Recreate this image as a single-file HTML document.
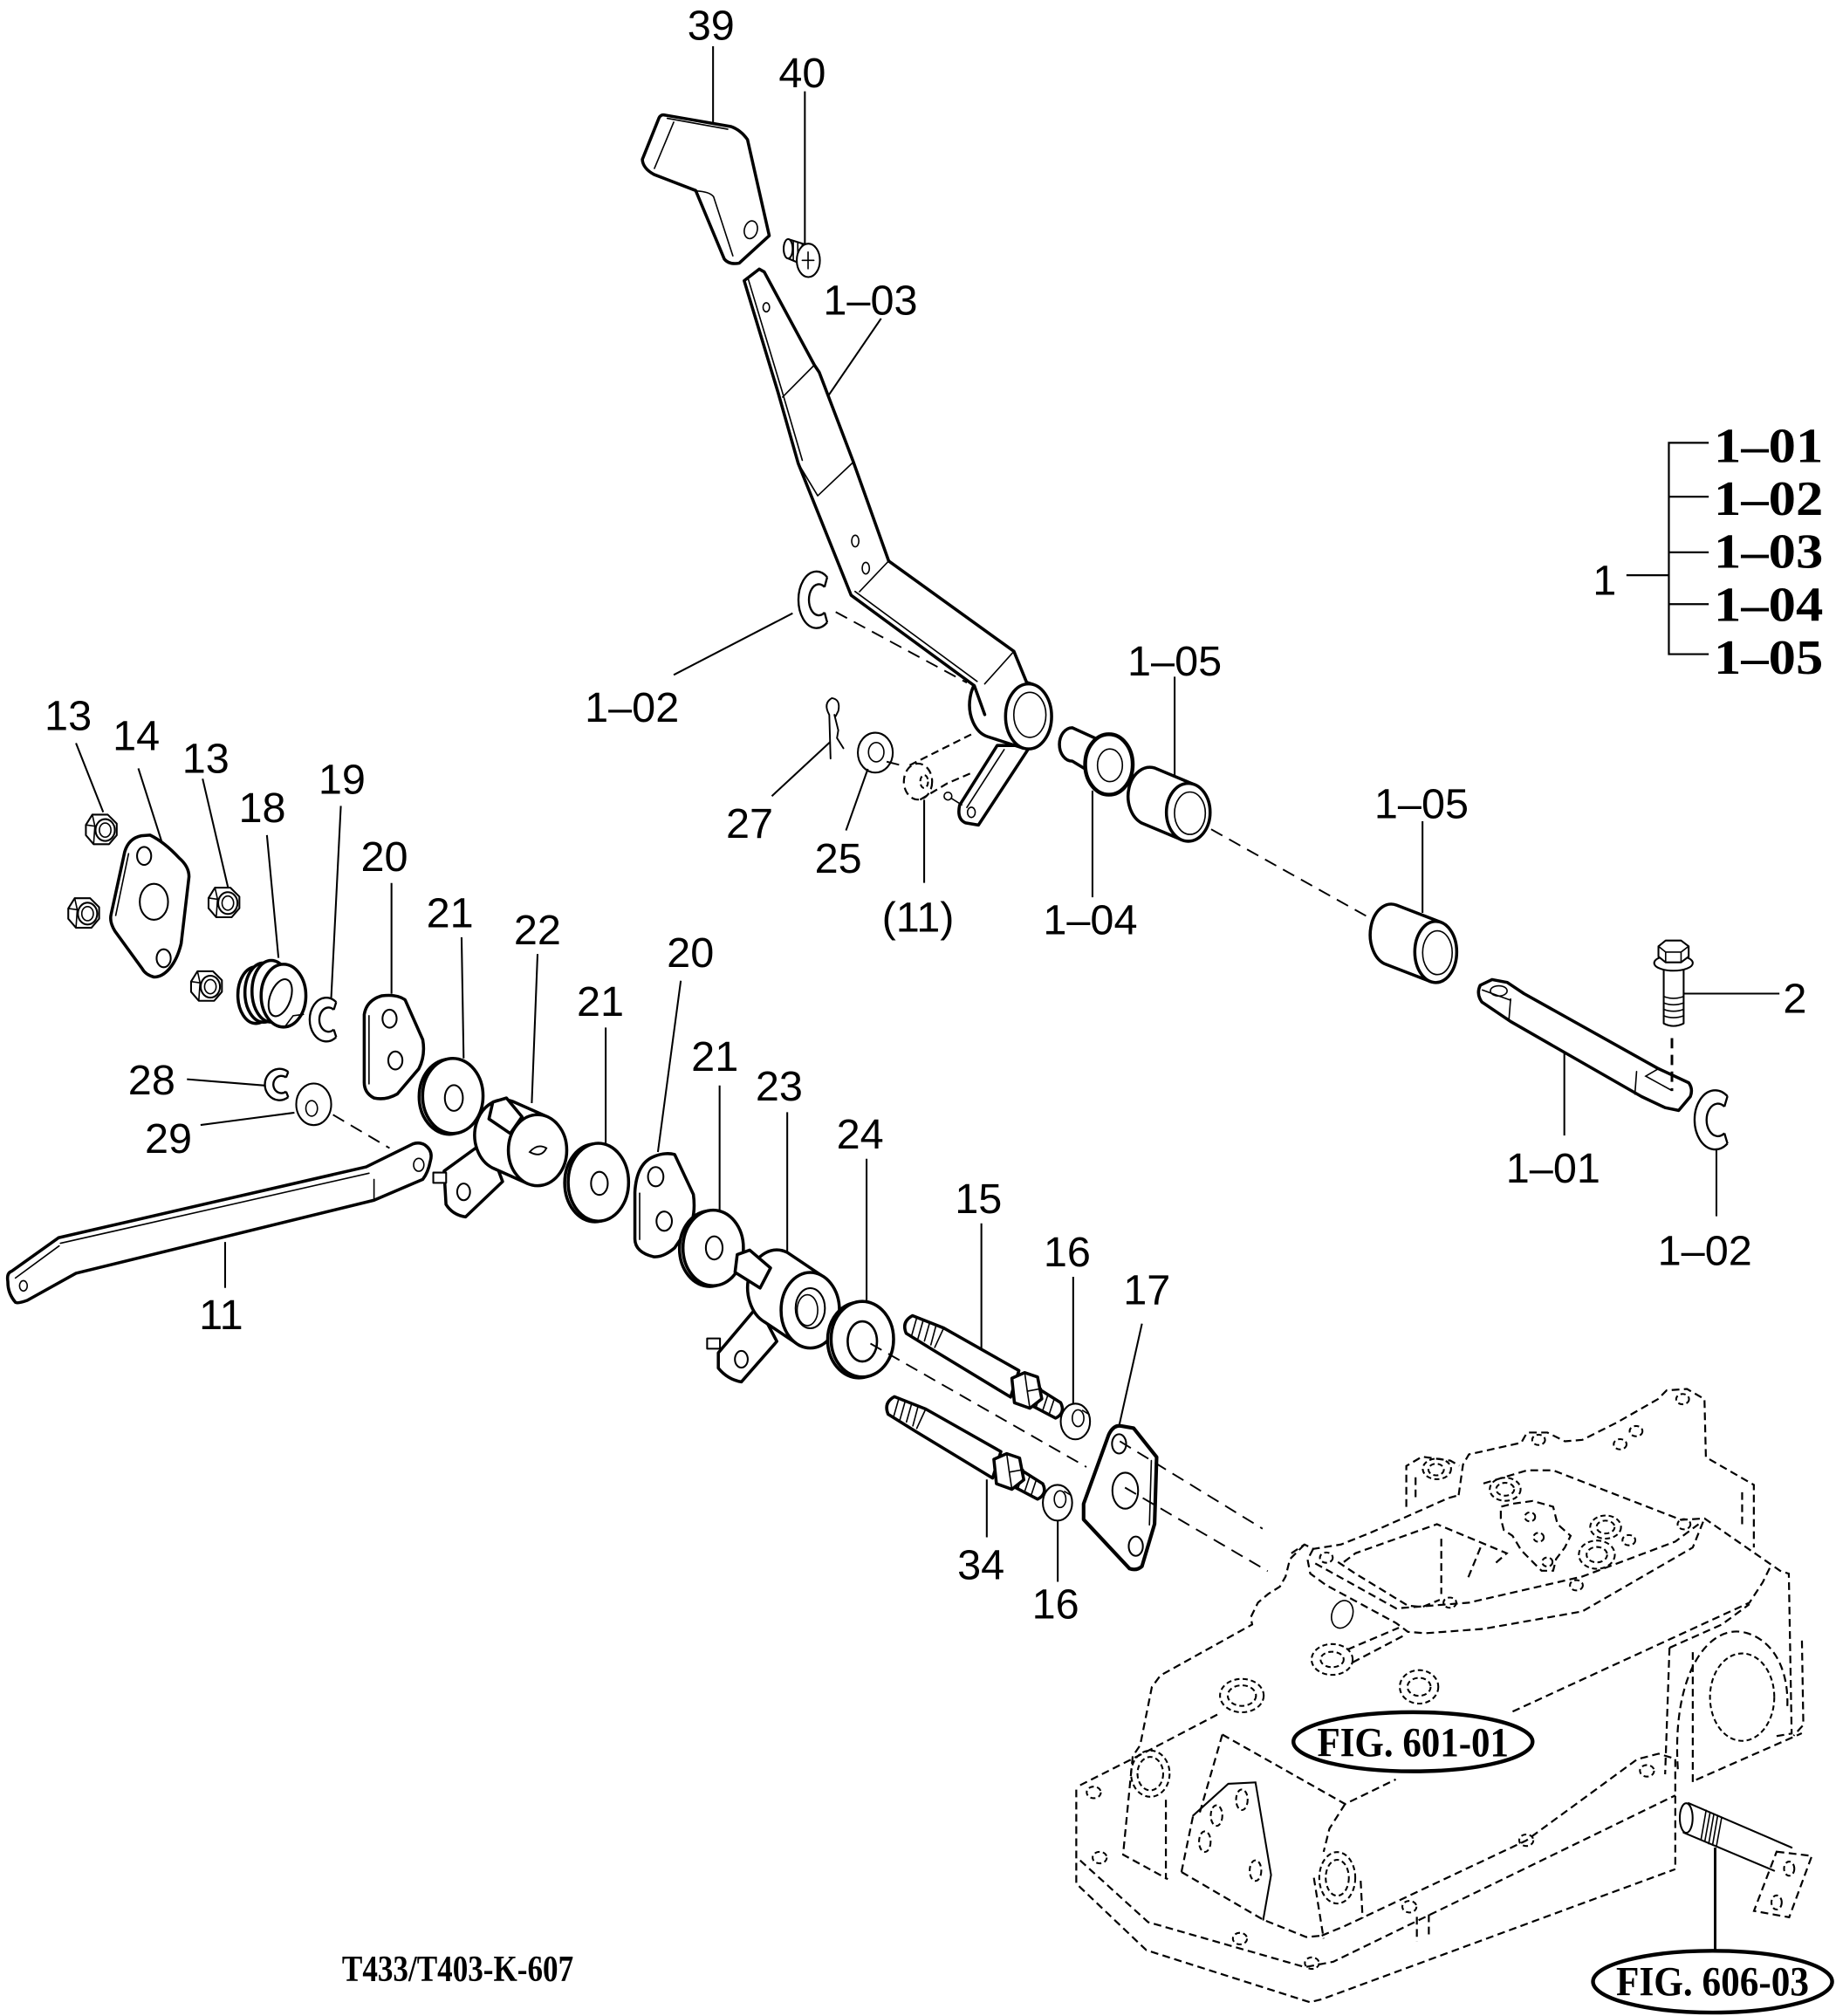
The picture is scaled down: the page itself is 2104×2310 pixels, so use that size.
<!DOCTYPE html>
<html><head><meta charset="utf-8"><style>
html,body{margin:0;padding:0;background:#fff}
svg{display:block}
</style></head><body>
<svg xmlns="http://www.w3.org/2000/svg" width="2104" height="2310" viewBox="0 0 1428 1568" preserveAspectRatio="none">
<style>
.p{fill:#fff;stroke:#000;stroke-width:2.4;stroke-linejoin:round;stroke-linecap:round}
.q{fill:#fff;stroke:#000;stroke-width:1.4;stroke-linejoin:round}
.t{fill:none;stroke:#000;stroke-width:1.1;stroke-linecap:round}
.l{fill:none;stroke:#000;stroke-width:1.4}
.d{fill:none;stroke:#000;stroke-width:1.5;stroke-dasharray:6 3.5}
.d2{fill:none;stroke:#000;stroke-width:1.4;stroke-dasharray:4 2.5}
.c{fill:none;stroke:#000;stroke-width:1.3;stroke-dasharray:10 6}
.n{font-family:"Liberation Sans",Arial,sans-serif;font-size:33px;text-anchor:middle;fill:#000}
.b{font-family:"Liberation Serif","Times New Roman",serif;font-weight:bold;fill:#000}
</style>
<rect width="1428" height="1568" fill="#fff"/>

<!-- ===== HOUSING (dashed) ===== -->
<g class="d">
<path d="M1004.4,1208.1 L1014.6,1201.3 L1021.4,1204.7 L1042.9,1201.3 L1065.5,1192.3 L1126.6,1165.1 L1134.5,1162.9"/>
<path d="M1014.6,1201.3 L1003.3,1212.6 L999.9,1226.2 L995.4,1234.1 L986.3,1239.8 L978.4,1246.5 L972.8,1257.9 L973.9,1263.5 L902.6,1303.1 L895.9,1312.1 L886.8,1357.4 L881,1366"/>
<path d="M1021.4,1204.7 L1017,1213 L1019.1,1223.9 L1031.6,1233 L1085.9,1262.4 L1095,1269.2 L1108.5,1270.3 L1153.8,1266.9 L1230.7,1253.3 L1316.6,1203.6 L1325.7,1181"/>
<path d="M1023,1216 L1085.9,1251 L1142.5,1246.5 L1230.7,1226.2 L1303,1199 L1321.1,1185.5"/>
<path d="M1134.5,1162.9 L1137.9,1139.1 L1142.5,1131.2 L1183.2,1122.1 L1187.7,1114.2 L1203.5,1114.2 L1217.1,1121 L1230.7,1119.9 L1242,1114.2 L1257.8,1106.3 L1289.5,1088.2 L1296.3,1081.4 L1312.1,1080.3 L1325.7,1088.2 L1326.8,1133.4 L1364.1,1154.9 L1364.1,1203.6"/>
<path d="M1153.8,1153.8 L1187.7,1143.6 L1208,1143.6 L1307.6,1182.1 L1325.7,1181 L1384.5,1221.7 L1391.3,1224 L1393.5,1348.3 L1380,1350.6"/>
<path d="M1401.5,1276 L1402.6,1341.6 L1395,1350"/>
<path d="M1355,1160.6 L1355,1185.5"/>
<path d="M1093.8,1172 L1093.8,1140.2 L1106,1133 L1128,1136 L1135,1140 M1101,1149 L1101,1166"/>
<path d="M1040.6,1214.9 L1054.2,1223.9 L1094.9,1248.8 L1106.2,1249.9 L1119.8,1244.3"/>
<path d="M1045.2,1214.9 L1054.2,1208.1 L1117.6,1185.5 L1171.9,1208.1 L1161.7,1217.1"/>
<path d="M1121,1196.8 L1121,1239.8"/>
<path d="M1151.5,1203.6 L1141.3,1228.5"/>
<path d="M1167.3,1181 L1167.3,1171.9 L1176.4,1169.6 L1192.2,1167.4 L1208,1171.9 L1211.4,1185.5 L1221.6,1194.5 L1217.1,1203.6 L1210.3,1212.6 L1208,1221.7 L1199,1221.7 L1192.2,1214.9 L1183.2,1205.8 L1176.4,1194.5 L1169.6,1190 Z"/>
<path d="M1176.5,1331.2 L1360.7,1246.5 L1371,1230.7 L1377.7,1217"/>
<path d="M1298.5,1281.6 L1339.2,1263.5 L1360.7,1247.7"/>
<path d="M1298.5,1281.6 L1295.1,1380 M1316.6,1285 L1316.6,1389"/>
<path d="M1305,1376 C1300,1300 1330,1262 1358,1270 C1380,1276 1392,1300 1390,1330"/>
<path d="M1319.2,1384.3 L1401.4,1348.1"/>
<path d="M840.1,1388.5 L888.6,1364 L949.2,1332.3"/>
<path d="M837.1,1391.9 L837.1,1465 L891.6,1516.8 L1018.9,1557.3 L1028,1555 L1303,1453.8"/>
<path d="M840.1,1447 L893,1495 L1015,1530 L1037,1525.8 L1303,1396.4"/>
<path d="M1028,1505.5 L1046,1498 L1187.1,1431.5 L1273.4,1368.3 L1290,1364 L1303,1368 L1303,1453.8"/>
<path d="M881,1366 L873.5,1442.5 L908.3,1461.6 M906.8,1399.8 L906.8,1461.6"/>
<path d="M918.9,1456 L928,1412.1 M918.9,1456 L982.5,1493.1 L1015.9,1506.6 L1028,1505.5"/>
<path d="M950.7,1349.1 L932.5,1412.1"/>
<path d="M950.7,1349.1 L1046.2,1403.1 L1085.6,1384"/>
<path d="M1046.2,1403.1 L1034,1422.3 L1029.5,1440.3"/>
<path d="M1021.9,1460.5 L1029.5,1507.8 M1058.3,1462.8 L1059.8,1492"/>
<path d="M1048,1283 L1088,1266 M1052,1293 L1092,1272"/>
<path d="M1102,1490.9 L1102,1510 M1111.3,1489 L1111.3,1507.8"/>
<path d="M1381.8,1440.2 L1409.2,1443.5 L1391.6,1491.2 L1364.2,1486.3 Z"/>
</g>
<path class="t" style="stroke-width:1.4" d="M928,1412.1 L955.3,1387.4 L976.5,1386.3 L988.6,1458.3 L982.5,1493.1"/>
<ellipse class="t" cx="1044" cy="1255.6" rx="8" ry="11" transform="rotate(20 1044 1255.6)"/>
<g class="d2">
<ellipse cx="1117.6" cy="1142.5" rx="11" ry="8"/><ellipse cx="1117" cy="1143" rx="6" ry="4.5"/>
<ellipse cx="1170.7" cy="1158.3" rx="12" ry="9"/><ellipse cx="1170.7" cy="1158.3" rx="7" ry="5"/>
<ellipse cx="1248.8" cy="1187.7" rx="12" ry="9"/><ellipse cx="1248.8" cy="1187.7" rx="7" ry="5"/>
<ellipse cx="1242" cy="1209.2" rx="14" ry="11"/><ellipse cx="1242" cy="1209.2" rx="8" ry="6"/>
<ellipse cx="1036.1" cy="1290.7" rx="16" ry="12"/><ellipse cx="1036.1" cy="1290.7" rx="9" ry="6"/>
<ellipse cx="965.9" cy="1318.8" rx="17" ry="13"/><ellipse cx="965.9" cy="1318.8" rx="11" ry="8"/>
<ellipse cx="1103.7" cy="1312" rx="15" ry="13"/><ellipse cx="1103.7" cy="1312" rx="9" ry="7"/>
<ellipse cx="894.7" cy="1379.5" rx="15" ry="18"/><ellipse cx="894.7" cy="1379.5" rx="10" ry="13"/>
<ellipse cx="1040.1" cy="1460.5" rx="14" ry="20"/><ellipse cx="1040.1" cy="1460.5" rx="9" ry="14"/>
<ellipse cx="1355" cy="1320" rx="25" ry="34"/>
<ellipse cx="965.9" cy="1399.8" rx="4.5" ry="8"/><ellipse cx="946.2" cy="1412.1" rx="4.5" ry="8"/>
<ellipse cx="937.1" cy="1432.4" rx="4.5" ry="8"/><ellipse cx="976.5" cy="1454.9" rx="4.5" ry="8"/>
<ellipse cx="1308.7" cy="1088.2" rx="5" ry="4"/><ellipse cx="1196.7" cy="1119.9" rx="5" ry="4"/>
<ellipse cx="1260.1" cy="1123.3" rx="5" ry="4"/><ellipse cx="1272.5" cy="1113.1" rx="5" ry="4"/>
<ellipse cx="1309.8" cy="1185.5" rx="5" ry="4"/><ellipse cx="1226.1" cy="1233" rx="5" ry="4"/>
<ellipse cx="1127.7" cy="1246.5" rx="5" ry="4"/><ellipse cx="1031.6" cy="1211.5" rx="5" ry="4"/>
<ellipse cx="1266.9" cy="1197.9" rx="5" ry="4"/><ellipse cx="850.7" cy="1394.1" rx="5.5" ry="4.5"/>
<ellipse cx="855.3" cy="1444.8" rx="5.5" ry="4.5"/><ellipse cx="964.4" cy="1507.8" rx="5.5" ry="4.5"/>
<ellipse cx="1020.4" cy="1526.9" rx="5.5" ry="4.5"/><ellipse cx="1096.2" cy="1483" rx="5.5" ry="4.5"/>
<ellipse cx="1187.1" cy="1431.3" rx="5.5" ry="4.5"/><ellipse cx="1281" cy="1377.3" rx="5.5" ry="4.5"/>
<ellipse cx="1190" cy="1179.8" rx="4" ry="3.5"/><ellipse cx="1196.7" cy="1195.7" rx="4" ry="3.5"/>
<ellipse cx="1203.5" cy="1214.9" rx="4" ry="3.5"/>
<ellipse cx="1391.6" cy="1453.4" rx="4" ry="5.5"/><ellipse cx="1381.8" cy="1479.7" rx="4" ry="5.5"/>
</g>
<!-- 606-03 pin -->
<path class="t" style="stroke-width:1.4" d="M1313.3,1402.4 L1393.5,1437 M1309.4,1425.3 L1379.9,1455"/>
<ellipse class="t" style="stroke-width:1.4" cx="1311.5" cy="1414" rx="5" ry="11.5"/>
<path class="t" d="M1327,1408 L1323,1431 M1330,1410 L1326,1432 M1333,1411 L1329,1434 M1336,1412 L1332,1435 M1339,1414 L1335,1436"/>
<line class="l" style="stroke-width:2" x1="1334" y1="1437" x2="1334" y2="1517"/>

<!-- FIG labels -->
<ellipse cx="1099" cy="1354.7" rx="93" ry="23" fill="#fff" stroke="#000" stroke-width="3"/>
<text class="b" x="1099" y="1366" font-size="32" text-anchor="middle" textLength="149" lengthAdjust="spacingAndGlyphs">FIG. 601-01</text>
<ellipse cx="1332" cy="1541.3" rx="93" ry="24" fill="#fff" stroke="#000" stroke-width="3"/>
<text class="b" x="1332" y="1552" font-size="32" text-anchor="middle" textLength="150" lengthAdjust="spacingAndGlyphs">FIG. 606-03</text>
<text class="b" x="356" y="1541" font-size="29" text-anchor="middle" textLength="180" lengthAdjust="spacingAndGlyphs">T433/T403-K-607</text>

<!-- ===== KNOB 39 ===== -->
<path class="p" d="M516.5,89.4 L568.4,98.4 Q576,101 581.4,108.6 L598.3,183.3 L574.9,204.7 Q567,206 563.3,201.4 L541.1,148.2 L508.7,135.7 Q500,131 499.6,124 L512.6,91.6 Q514,89 516.5,89.4 Z"/>
<path class="t" d="M519,92 L566,100.5 M524,95 L509,131 M541.5,148.5 Q552,149 555,153 L570,199"/>
<ellipse class="t" cx="584" cy="178.7" rx="5" ry="7" transform="rotate(15 584 178.7)"/>
<line class="l" x1="554.6" y1="36" x2="554.6" y2="95"/>

<!-- ===== SCREW 40 ===== -->
<path class="q" d="M613,186 L629,191 L627,207 L613,201 Z"/>
<ellipse class="q" cx="613" cy="193.5" rx="3.5" ry="7.5"/>
<path class="t" d="M617,187.5 L617,202.5 M620.5,188.5 L620.5,204 M624,189.5 L624,205.5"/>
<ellipse class="q" cx="628.7" cy="202.5" rx="9" ry="13"/>
<path class="t" d="M628.5,196 L628.5,209 M624,202.5 L633,202.5"/>
<line class="l" x1="626" y1="71" x2="626" y2="190"/>

<!-- ===== LEVER 1-03 ===== -->
<path class="p" d="M775.6,579.8 L746.4,626.2 Q744,637 751,640 L761,641.7 L801.6,579.8 Z"/>
<path class="t" d="M781,583 L752,628 M740,621 L748,626"/>
<ellipse class="t" cx="755.5" cy="631.8" rx="3" ry="4"/>
<circle class="t" cx="737.3" cy="619.2" r="3"/>
<path class="p" d="M804,532.5 L776,523.5 A17.9 25.3 0 0 0 768,572.9 L796,581.9 Z"/>
<path fill="#fff" d="M578.8,218.3 L590.5,209.3 L594.4,211.5 L633.4,283.9 L637.2,289.6 L663.6,358.9 L691.2,436.3 L788.6,506.6 L798.4,530.5 L790,545 L765.9,555.8 L757.8,533.3 L662,463 L620.8,360.3 L605.2,305.4 Z"/>
<path class="p" style="fill:none" d="M765.9,555.8 L757.8,533.3 L662,463 L620.8,360.3 L605.2,305.4 L578.8,218.3 L590.5,209.3 L594.4,211.5 L633.4,283.9 L637.2,289.6 L663.6,358.9 L691.2,436.3 L788.6,506.6 L798.4,530.5"/>
<path class="t" d="M581.8,216.5 L608.2,304 L624,358 M620.8,360.3 L636,385.6 M633.4,283.9 L608.7,308.8 M663.6,359.5 L636,385.6 M691.2,436.3 L668.5,460.2 M788.6,506.6 L765.9,531.9 M665,460 L760,530"/>
<ellipse class="t" cx="596" cy="239" rx="2.5" ry="3.5"/>
<ellipse class="t" cx="665.2" cy="420.8" rx="2.8" ry="4.5"/>
<ellipse class="t" cx="673.4" cy="441.9" rx="2.8" ry="4.5"/>
<ellipse class="p" cx="800" cy="557.2" rx="17.9" ry="25.3"/>
<ellipse class="t" cx="801" cy="556" rx="12.5" ry="17.5"/>
<line class="l" x1="685.3" y1="247.7" x2="644.3" y2="307.7"/>

<!-- 1-02 upper clip -->
<path class="l" style="stroke-width:1.6" d="M643.4,448.9 A14 22 0 1 0 643.4,484.1 M641.3,456.6 A7.7 12.1 0 1 0 641.3,476.4 M643.4,448.9 L641.3,456.6 M643.4,484.1 L641.3,476.4"/>
<line class="c" x1="650" y1="476" x2="752" y2="531"/>
<line class="l" x1="616.5" y1="477" x2="524" y2="524.9"/>

<!-- 27 cotter pin -->
<path class="t" style="stroke-width:1.3" d="M646,590 L645,556 Q640,547 647,543 Q654,544 652,553 L650,557 M649,556 L652,568 L651,574 L656,582"/>
<line class="l" x1="645.8" y1="577" x2="600.3" y2="619.2"/>

<!-- 25 washer -->
<ellipse class="q" cx="680.8" cy="585.4" rx="13.6" ry="15.5"/>
<ellipse class="t" cx="681.5" cy="585" rx="6" ry="7.5"/>
<line class="l" x1="675" y1="598" x2="658" y2="645.9"/>

<!-- (11) dashed -->
<path class="d" d="M707.5,595.2 L757.8,570 M715.6,622 L736.7,609.3 L756.2,600.9"/>
<ellipse class="d" cx="714" cy="607.9" rx="11" ry="14"/>
<ellipse class="d2" cx="718.8" cy="607.9" rx="3" ry="5"/>
<line class="c" x1="689.6" y1="592.4" x2="700.8" y2="595.2"/>
<line class="l" x1="718.8" y1="622" x2="718.8" y2="686.7"/>

<!-- 1-04 -->
<path class="p" d="M857,576.5 L834,566 A10 13 0 0 0 834,592 L853,603.5 Z"/>
<ellipse class="p" style="stroke-width:3" cx="862.5" cy="594.6" rx="18.5" ry="23.5"/>
<ellipse class="t" cx="863.3" cy="595.2" rx="9.7" ry="12.7"/>
<line class="l" x1="849.7" y1="614.9" x2="849.7" y2="697.9"/>

<!-- 1-05 upper -->
<path class="p" d="M929.3,610.4 L898.3,597.4 A17 22.5 0 0 0 888.1,640.2 L919.1,653.2 Z"/>
<ellipse class="p" cx="924.2" cy="631.8" rx="17" ry="22.5"/>
<ellipse class="t" cx="925.5" cy="632.5" rx="12" ry="16.5"/>
<line class="l" x1="913.6" y1="526.3" x2="913.6" y2="603"/>
<line class="c" x1="942" y1="645" x2="1069" y2="716"/>

<!-- 1-05 lower -->
<path class="p" d="M1120.9,717.4 L1086.2,704 A16.3 23.8 0 0 0 1077.8,750 L1112.5,763.4 Z"/>
<ellipse class="p" cx="1116.7" cy="740.4" rx="16.3" ry="23.8"/>
<ellipse class="t" cx="1118" cy="741" rx="11.5" ry="17"/>
<line class="l" x1="1106.4" y1="638.7" x2="1106.4" y2="710"/>

<!-- 1-01 pin -->
<path class="p" d="M1151.3,766.3 L1160.5,761.9 L1172.3,764.1 L1185.3,772.8 L1289.9,831.2 L1313.4,842.1 Q1317,847 1314.7,852.9 L1305.6,863.7 L1295.1,861.5 L1276.8,852.9 L1174.9,794.5 L1152.6,779.4 Q1148,773 1151.3,766.3 Z"/>
<path class="t" d="M1174.9,777 L1173.6,793.5 M1272.9,833.4 L1271.6,851 M1153,770 L1175,778 M1289.9,831.2 L1280,837 L1300,848"/>
<ellipse class="t" cx="1165.7" cy="770.7" rx="6.5" ry="4"/>
<line class="l" x1="1216.7" y1="818.3" x2="1216.7" y2="883.2"/>

<!-- bolt 2 -->
<path class="q" d="M1294,750 L1294,796 Q1301.5,800 1309.5,796 L1309.5,750 Z"/>
<path class="t" d="M1294,775 Q1301.5,778 1309.5,775 M1294,780 Q1301.5,783 1309.5,780 M1294,785 Q1301.5,788 1309.5,785 M1294,790 Q1301.5,793 1309.5,790"/>
<ellipse class="q" cx="1301.6" cy="749" rx="15" ry="6"/>
<path class="q" d="M1289.9,736 L1295.5,731.5 L1307.5,731.5 L1313.4,736 L1313.4,744 L1307.5,748.5 L1295.5,748.5 L1289.9,744 Z"/>
<path class="t" d="M1289.9,736 L1295.5,740.5 L1307.5,740.5 L1313.4,736 M1295.5,740.5 L1295.5,748.5 M1307.5,740.5 L1307.5,748.5"/>
<line class="l" x1="1309.5" y1="772.8" x2="1384" y2="772.8"/>
<line x1="1300.4" y1="807.4" x2="1300.4" y2="848.6" stroke="#000" stroke-width="2" stroke-dasharray="8 5"/>

<!-- 1-02 lower clip -->
<path class="l" style="stroke-width:1.6" d="M1343.6,852.6 A16 23 0 1 0 1343.6,889.4 M1341.2,860.7 A8.8 12.65 0 1 0 1341.2,881.4 M1343.6,852.6 L1341.2,860.7 M1343.6,889.4 L1341.2,881.4"/>
<line class="l" x1="1335" y1="894" x2="1335" y2="946"/>

<!-- right list bracket -->
<path class="l" style="stroke-width:1.5" d="M1329,344.4 L1298,344.4 L1298,508.8 L1329,508.8 M1298,386.3 L1329,386.3 M1298,429.6 L1329,429.6 M1298,469.9 L1329,469.9 M1265,447.4 L1298,447.4"/>
<text class="b" x="1333" y="359.5" font-size="38" textLength="85" lengthAdjust="spacingAndGlyphs">1–01</text>
<text class="b" x="1333" y="400.6" font-size="38" textLength="85" lengthAdjust="spacingAndGlyphs">1–02</text>
<text class="b" x="1333" y="441.7" font-size="38" textLength="85" lengthAdjust="spacingAndGlyphs">1–03</text>
<text class="b" x="1333" y="482.9" font-size="38" textLength="85" lengthAdjust="spacingAndGlyphs">1–04</text>
<text class="b" x="1333" y="524" font-size="38" textLength="85" lengthAdjust="spacingAndGlyphs">1–05</text>

<!-- ===== LEFT GROUP ===== -->
<!-- nuts -->
<defs>
<g id="nut">
<polygon class="q" points="-12,-3 -7,-11 5,-11 12,-4 12,5 6,12 -6,12 -12,5"/>
<path class="t" d="M-12,-3 L-5,-2 L-7,-11 M-5,-2 L-6,12"/>
<ellipse class="q" cx="3" cy="1" rx="7.5" ry="8.5"/>
<ellipse class="t" cx="3" cy="1" rx="4.5" ry="5.5"/>
</g>
</defs>
<use href="#nut" x="78.8" y="644.6"/>
<use href="#nut" x="65.1" y="709.6"/>
<use href="#nut" x="174.2" y="701.4"/>
<use href="#nut" x="160.6" y="766.4"/>
<line class="l" x1="59.1" y1="578" x2="80.3" y2="631.7"/>
<line class="l" x1="157.6" y1="605.7" x2="177.3" y2="690.1"/>

<!-- plate 14 -->
<path class="p" d="M97,662.5 Q100,652 110,650 L116.7,649.5 Q128,655 139.4,667.4 Q147,674 147,681.9 L140.9,733.9 Q138,746 131.8,753.4 Q126,760 119.7,759.9 Q113,758 110.6,753.4 L89.4,724.2 Q85,717 86.4,711.2 Z"/>
<path class="t" d="M100,664 L90,712"/>
<ellipse class="q" cx="112.1" cy="665.7" rx="5.5" ry="7"/>
<ellipse class="q" cx="119.7" cy="701.4" rx="11" ry="14"/>
<ellipse class="q" cx="127.3" cy="745.3" rx="5.5" ry="7"/>
<line class="l" x1="107.6" y1="597.6" x2="125.7" y2="654.4"/>

<!-- seal 18 -->
<ellipse class="p" cx="199" cy="774" rx="14" ry="22"/>
<ellipse class="p" cx="205" cy="772" rx="14.5" ry="23"/>
<ellipse class="p" cx="211" cy="771" rx="15" ry="24"/>
<ellipse class="p" cx="220.5" cy="774.4" rx="17.4" ry="24.4"/>
<ellipse class="t" style="stroke-width:1.4" cx="218" cy="776" rx="8" ry="15" transform="rotate(20 218 776)"/>
<path class="t" d="M222,798 L228,790 L236,789"/>
<line class="l" x1="207.6" y1="649.5" x2="216.6" y2="745"/>

<!-- 19 clip -->
<path class="l" style="stroke-width:1.6" d="M261.5,779.4 A12.9 17 0 1 0 261.5,806.6 M259.6,785.4 A7.1 9.4 0 1 0 259.6,800.7 M261.5,779.4 L259.6,785.4 M261.5,806.6 L259.6,800.7"/>
<line class="l" x1="265.1" y1="626.8" x2="257.6" y2="776.1"/>

<!-- plate 20 (1) -->
<path class="p" d="M283.3,789.1 Q285,778 297,774.5 Q309,773 315.1,777.7 L328.8,808.6 Q331,821 325.7,831.3 L309.1,850.8 Q300,856 290.9,854 Q283,850 283.3,841 Z"/>
<path class="t" d="M287,790 L287,843"/>
<ellipse class="q" cx="303" cy="792.3" rx="5.5" ry="7"/>
<ellipse class="q" cx="307.5" cy="824.8" rx="5.5" ry="7"/>
<line class="l" x1="304.5" y1="686.8" x2="304.5" y2="773"/>

<!-- washer 21 (1) -->
<ellipse class="p" cx="349.5" cy="853" rx="23.5" ry="29.2"/>
<ellipse class="p" cx="352.2" cy="852.4" rx="23.5" ry="29.2"/>
<ellipse class="q" cx="353" cy="854" rx="7" ry="10"/>
<line class="l" x1="359" y1="729" x2="360.6" y2="823.2"/>

<!-- part 22 -->
<path class="p" d="M378.8,886.5 L345.4,910.8 L346.9,936.8 Q352,945 362.1,946.5 L390.9,919 Z"/>
<ellipse class="q" cx="360.6" cy="927" rx="5" ry="6.5"/>
<rect class="q" x="337" y="912" width="10" height="8"/>
<path class="p" d="M425.9,868.7 L398.9,856.7 A22.7 27.6 0 0 0 383.3,908.5 L410.3,920.5 Z"/>
<path class="p" d="M383.3,857.2 L393.9,854 L406,868.6 L396.9,881.6 L380.3,870.3 Z"/>
<ellipse class="p" cx="418.1" cy="894.6" rx="22.7" ry="27.6"/>
<path class="t" style="stroke-width:1.3" d="M412,896 Q418,889 425,893 Q421,901 412,896 Z"/>
<line class="l" x1="418.1" y1="742" x2="413.6" y2="858"/>

<!-- 28 clip -->
<path class="l" style="stroke-width:1.6" d="M224.2,833.7 A11.4 12.2 0 1 0 224.2,853.3 M222.5,838 A6.3 6.7 0 1 0 222.5,849 M224.2,833.7 L222.5,838 M224.2,853.3 L222.5,849"/>
<line class="l" x1="145.4" y1="839.4" x2="206" y2="844.3"/>

<!-- 29 washer -->
<ellipse class="q" cx="244" cy="858.9" rx="13.6" ry="16.2"/>
<ellipse class="t" cx="242.4" cy="862.1" rx="4.5" ry="6"/>
<line class="l" x1="156" y1="875" x2="229" y2="865.4"/>
<line class="c" x1="259" y1="867" x2="303" y2="893"/>

<!-- link 11 -->
<path class="p" d="M6.1,996.8 Q5,990 9.1,988.7 L45.5,962.7 L284.8,907.6 L321.2,889.7 Q326,888 330.3,890.4 Q337,895 334.8,902.7 Q333,912 328.8,917.3 L290.9,933.5 L59.1,990.3 L21.2,1011.4 Q14,1014 12.1,1013 Q6,1006 6.1,996.8 Z"/>
<path class="t" d="M47,967 L287,912.5 M290.9,917.3 L290.9,933.5 M12,994 L46,969"/>
<ellipse class="t" cx="325.7" cy="906" rx="4" ry="5"/>
<ellipse class="t" cx="18.2" cy="1000.1" rx="3" ry="4"/>
<line class="l" x1="175.1" y1="966" x2="175.1" y2="1001.7"/>

<!-- washer 21 (2) -->
<ellipse class="p" cx="462.7" cy="920" rx="23.5" ry="30.3"/>
<ellipse class="p" cx="465.4" cy="919.5" rx="23.5" ry="30.3"/>
<ellipse class="q" cx="466.2" cy="920.4" rx="6.5" ry="9"/>
<line class="l" x1="471.1" y1="799.2" x2="471.1" y2="889.2"/>

<!-- plate 20 (2) -->
<path class="p" d="M493.8,927.3 Q495,905 508.4,899.6 Q517,896 524.7,897.9 L539.3,929 Q541,942 537.7,951.5 L524.7,970.6 Q516,978 508.4,977.5 Q494,974 493.8,963.7 Z"/>
<path class="t" d="M497.5,928 L497.5,964"/>
<ellipse class="q" cx="510" cy="915.2" rx="6" ry="7.5"/>
<ellipse class="q" cx="516.6" cy="949.8" rx="6" ry="7.5"/>
<line class="l" x1="529.5" y1="762.8" x2="511.7" y2="896"/>

<!-- washer 21 (3) -->
<ellipse class="p" cx="552" cy="971.2" rx="23.5" ry="29.4"/>
<ellipse class="p" cx="554.7" cy="970.6" rx="23.5" ry="29.4"/>
<ellipse class="q" cx="555.5" cy="970.6" rx="6.5" ry="9"/>
<line class="l" x1="559.7" y1="844.2" x2="559.7" y2="942.9"/>

<!-- part 23 -->
<path class="p" d="M589.6,1015.6 L558.7,1052.2 L558.7,1064.1 Q566,1073 576.6,1074.8 L604.2,1043.3 Z"/>
<ellipse class="q" cx="576.6" cy="1057.2" rx="5" ry="6.5"/>
<rect class="q" x="550" y="1041" width="10" height="8"/>
<path class="p" d="M638.8,991.9 L612.3,974.1 A22.7 29.4 0 0 0 595.1,1028.5 L621.6,1046.3 Z"/>
<path class="p" d="M573.4,975.8 L583.1,972.3 L599.3,986.2 L591.2,1001.8 L571.7,989.6 Z"/>
<ellipse class="p" cx="630.2" cy="1019.1" rx="22.7" ry="29.4"/>
<ellipse class="q" cx="630.2" cy="1017.5" rx="11.4" ry="15.6"/>
<ellipse class="t" cx="628" cy="1019" rx="8" ry="12"/>
<line class="l" x1="612.3" y1="865" x2="612.3" y2="974"/>

<!-- washer 24 -->
<ellipse class="p" cx="668" cy="1042.3" rx="24.3" ry="29.4"/>
<ellipse class="p" cx="670.7" cy="1041.6" rx="24.3" ry="29.4"/>
<ellipse class="q" style="stroke-width:1.8" cx="670.7" cy="1043.3" rx="11.4" ry="15.6"/>
<line class="l" x1="674" y1="901.3" x2="674" y2="1012.2"/>
<line class="c" x1="677" y1="1045" x2="845" y2="1141"/>

<!-- stud 15 -->
<g id="stud">
<path class="p" d="M709.7,1023.3 L734,1032.9 L792.5,1066 L786,1086.6 L726,1050.2 L704.8,1037 Q701,1028 709.7,1023.3 Z"/>
<path class="t" d="M713,1025 L709,1039 M718,1027 L714,1041 M723,1029 L719,1043 M728,1031 L724,1046 M734,1032.9 L727,1048"/>
<path class="p" d="M806,1079 L825,1091 Q829,1099 821,1103 L802,1093 Z"/>
<path class="t" d="M810,1082 L806,1094 M815,1085 L811,1097 M820,1088 L816,1100"/>
<path class="p" d="M787,1072 L797,1067.6 L807,1071 L810.3,1088 L801,1095.3 L789,1091 Z"/>
<path class="t" d="M797,1067.6 L799,1082 L801,1095.3 M799,1082 L810,1080"/>
</g>
<line class="l" x1="763.3" y1="951.5" x2="763.3" y2="1049"/>
<!-- stud 34 -->
<g transform="translate(-14,63)">
<path class="p" d="M709.7,1023.3 L734,1032.9 L792.5,1066 L786,1086.6 L726,1050.2 L704.8,1037 Q701,1028 709.7,1023.3 Z"/>
<path class="t" d="M713,1025 L709,1039 M718,1027 L714,1041 M723,1029 L719,1043 M728,1031 L724,1046 M734,1032.9 L727,1048"/>
<path class="p" d="M806,1079 L825,1091 Q829,1099 821,1103 L802,1093 Z"/>
<path class="t" d="M810,1082 L806,1094 M815,1085 L811,1097 M820,1088 L816,1100"/>
<path class="p" d="M787,1072 L797,1067.6 L807,1071 L810.3,1088 L801,1095.3 L789,1091 Z"/>
<path class="t" d="M797,1067.6 L799,1082 L801,1095.3 M799,1082 L810,1080"/>
</g>
<line class="l" x1="767.5" y1="1150.7" x2="767.5" y2="1195.7"/>

<!-- washers 16 -->
<ellipse class="q" cx="836.4" cy="1105.6" rx="11.4" ry="13.9"/>
<ellipse class="t" cx="838.5" cy="1103" rx="4.5" ry="6.5"/>
<line class="t" x1="842" y1="1097" x2="847" y2="1100"/>
<line class="l" x1="834.7" y1="993.1" x2="834.7" y2="1091.7"/>
<ellipse class="q" cx="822.5" cy="1168.8" rx="11.4" ry="13.9"/>
<ellipse class="t" cx="824.5" cy="1166" rx="4.5" ry="6.5"/>
<line class="t" x1="828" y1="1160" x2="833" y2="1163"/>
<line class="l" x1="822.7" y1="1183" x2="822.7" y2="1230.3"/>

<!-- plate 17 -->
<path class="p" style="stroke-width:2.8" d="M862.3,1116 Q866,1108 872,1109.1 L881.7,1110.8 L899.6,1133.3 L898,1185.3 L888.2,1218.2 Q884,1222 878.5,1220 L842.8,1181.8 L842.8,1169.7 Z"/>
<path class="t" d="M895.5,1136 L894,1186"/>
<ellipse class="q" cx="870.4" cy="1123" rx="5.5" ry="7.5"/>
<ellipse class="q" cx="875.2" cy="1159.4" rx="10" ry="14"/>
<ellipse class="q" cx="883.4" cy="1202.6" rx="5.5" ry="7.5"/>
<line class="c" x1="871" y1="1121" x2="982" y2="1189"/>
<line class="c" x1="875" y1="1157" x2="986" y2="1222"/>
<line class="l" x1="888.2" y1="1029.5" x2="870.4" y2="1109"/>

<!-- ===== LABELS ===== -->
<g class="n">
<text x="553" y="30.8">39</text>
<text x="624" y="67.8">40</text>
<text x="677" y="244.8">1–03</text>
<text x="913.6" y="525.4">1–05</text>
<text x="491.5" y="561.3">1–02</text>
<text x="583" y="651.8">27</text>
<text x="652" y="678.8">25</text>
<text x="714" y="724.6">(11)</text>
<text x="848" y="726.8">1–04</text>
<text x="1105.6" y="636.4">1–05</text>
<text x="1396" y="787.8">2</text>
<text x="1208" y="919.8">1–01</text>
<text x="1326" y="983.8">1–02</text>
<text x="1248" y="462.5">1</text>
<text x="53" y="567.8">13</text>
<text x="106" y="583.4">14</text>
<text x="160" y="601.2">13</text>
<text x="204" y="639.3">18</text>
<text x="266" y="617.5">19</text>
<text x="299" y="677.6">20</text>
<text x="350" y="721.3">21</text>
<text x="418" y="734.3">22</text>
<text x="118" y="851.2">28</text>
<text x="131" y="896.7">29</text>
<text x="172" y="1033.8">11</text>
<text x="467" y="790.2">21</text>
<text x="537" y="752.1">20</text>
<text x="556" y="832.8">21</text>
<text x="606" y="855.8">23</text>
<text x="669" y="893.3">24</text>
<text x="761" y="943.5">15</text>
<text x="830" y="984.8">16</text>
<text x="892" y="1014.5">17</text>
<text x="763" y="1228.3">34</text>
<text x="821" y="1258.8">16</text>
</g>
</svg>
</body></html>
